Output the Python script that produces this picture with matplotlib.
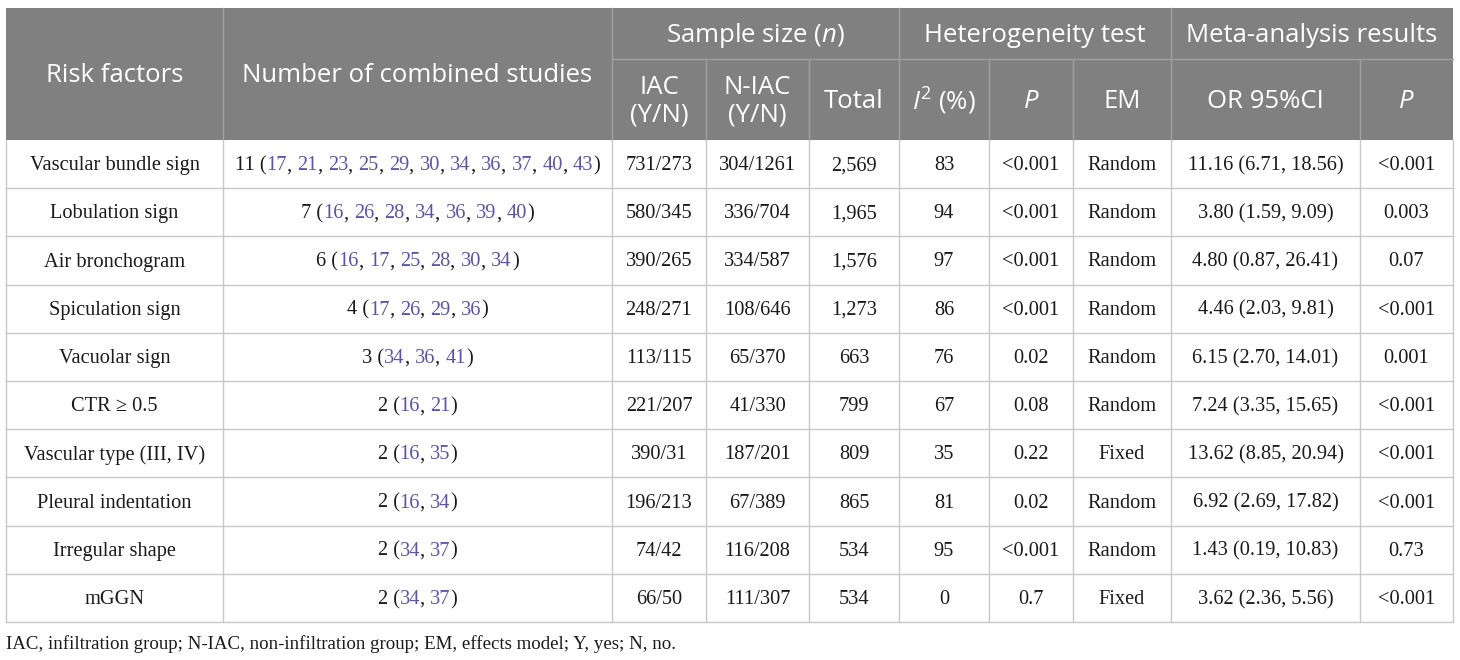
import matplotlib
matplotlib.use('Agg')
import matplotlib.pyplot as plt
from matplotlib.patches import Rectangle

plt.rcParams['mathtext.fontset'] = 'custom'
plt.rcParams['mathtext.rm'] = 'Open Sans'
plt.rcParams['mathtext.it'] = 'Open Sans:italic'

# table data
risk_factors = ['Vascular bundle sign', 'Lobulation sign', 'Air bronchogram',
                'Spiculation sign', 'Vacuolar sign', 'CTR \u2265 0.5',
                'Vascular type (III, IV)', 'Pleural indentation',
                'Irregular shape', 'mGGN']
n_studies = [11, 7, 6, 4, 3, 2, 2, 2, 2, 2]
refs = [[17, 21, 23, 25, 29, 30, 34, 36, 37, 40, 43],
        [16, 26, 28, 34, 36, 39, 40],
        [16, 17, 25, 28, 30, 34],
        [17, 26, 29, 36],
        [34, 36, 41],
        [16, 21],
        [16, 35],
        [16, 34],
        [34, 37],
        [34, 37]]
iac = ['731/273', '580/345', '390/265', '248/271', '113/115', '221/207',
       '390/31', '196/213', '74/42', '66/50']
niac = ['304/1261', '336/704', '334/587', '108/646', '65/370', '41/330',
        '187/201', '67/389', '116/208', '111/307']
total = ['2,569', '1,965', '1,576', '1,273', '663', '799', '809', '865', '534', '534']
i2 = ['83', '94', '97', '86', '76', '67', '35', '81', '95', '0']
p_het = ['<0.001', '<0.001', '<0.001', '<0.001', '0.02', '0.08', '0.22', '0.02',
         '<0.001', '0.7']
em = ['Random', 'Random', 'Random', 'Random', 'Random', 'Random', 'Fixed',
      'Random', 'Random', 'Fixed']
or_ci = ['11.16 (6.71, 18.56)', '3.80 (1.59, 9.09)', '4.80 (0.87, 26.41)',
         '4.46 (2.03, 9.81)', '6.15 (2.70, 14.01)', '7.24 (3.35, 15.65)',
         '13.62 (8.85, 20.94)', '6.92 (2.69, 17.82)', '1.43 (0.19, 10.83)',
         '3.62 (2.36, 5.56)']
p_meta = ['<0.001', '0.003', '0.07', '<0.001', '0.001', '<0.001', '<0.001',
          '<0.001', '0.73', '<0.001']

footnote = 'IAC, infiltration group; N-IAC, non-infiltration group; EM, effects model; Y, yes; N, no.'

# layout (pixels)
col_x = [6, 223, 612, 706, 809, 899, 989, 1073, 1171, 1360, 1453]
head_top, head_mid, head_bot = 8, 59, 140
row_h = 48.2

HEAD_BG = '#808080'
HEAD_LINE = '#a0a0a0'
BODY_LINE = '#c8c8c8'
REF_COLOR = '#5b55a5'
SANS = 'Open Sans'
SERIF = 'Liberation Serif'
hfs = 18.5
bfs = 14.7

fig = plt.figure(figsize=(14.6, 6.6), dpi=100)
ax = fig.add_axes([0, 0, 1, 1])
ax.set_xlim(0, 1460)
ax.set_ylim(660, 0)
ax.axis('off')

# header block
ax.add_patch(Rectangle((col_x[0], head_top), col_x[-1] - col_x[0], head_bot - head_top,
                       facecolor=HEAD_BG, edgecolor='none'))
# header lines
for x in [col_x[1], col_x[2], col_x[5], col_x[8]]:
    ax.plot([x, x], [head_top, head_bot], color=HEAD_LINE, lw=1)
for x in [col_x[3], col_x[4], col_x[6], col_x[7], col_x[9]]:
    ax.plot([x, x], [head_mid, head_bot], color=HEAD_LINE, lw=1)
ax.plot([col_x[2], col_x[-1]], [head_mid, head_mid], color=HEAD_LINE, lw=1)


def cx(i):
    return (col_x[i] + col_x[i + 1]) / 2


hkw = dict(color='white', fontsize=hfs, family=SANS, ha='center', va='center')
top = (head_top + head_mid) / 2 + 2
full = (head_top + head_bot) / 2 + 2
sub = (head_mid + head_bot) / 2 + 2
ax.text(cx(0), full, 'Risk factors', **hkw)
ax.text(cx(1), full, 'Number of combined studies', **hkw)
ax.text((col_x[2] + col_x[5]) / 2, top, 'Sample size ($\\it{n}$)', **hkw)
ax.text((col_x[5] + col_x[8]) / 2, top, 'Heterogeneity test', **hkw)
ax.text((col_x[8] + col_x[10]) / 2, top, 'Meta-analysis results', **hkw)
ax.text(cx(2), sub, 'IAC\n(Y/N)', linespacing=1.12, **hkw)
ax.text(cx(3), sub, 'N-IAC\n(Y/N)', linespacing=1.12, **hkw)
ax.text(cx(4), sub, 'Total', **hkw)
ax.text(cx(5), sub, '$\\it{I}^2$ (%)', **hkw)
ax.text(cx(6), sub, '$\\it{P}$', **hkw)
ax.text(cx(7), sub, 'EM', **hkw)
ax.text(cx(8), sub, 'OR 95%CI', **hkw)
ax.text(cx(9), sub, '$\\it{P}$', **hkw)

# body grid
n_rows = len(risk_factors)
body_bot = head_bot + n_rows * row_h
for x in col_x:
    ax.plot([x, x], [head_bot, body_bot], color=BODY_LINE, lw=1)
for r in range(1, n_rows + 1):
    y = head_bot + r * row_h
    ax.plot([col_x[0], col_x[-1]], [y, y], color=BODY_LINE, lw=1)

renderer = fig.canvas.get_renderer()
bkw = dict(fontsize=bfs, family=SERIF, va='center')


def text_width(s):
    t = ax.text(0, 0, s, **bkw)
    w = t.get_window_extent(renderer).width
    t.remove()
    return w


for r in range(n_rows):
    yc = head_bot + (r + 0.5) * row_h + 1.5
    cells = [risk_factors[r], None, iac[r], niac[r], total[r], i2[r], p_het[r],
             em[r], or_ci[r], p_meta[r]]
    for i, s in enumerate(cells):
        if s is not None:
            ax.text(cx(i), yc, s, ha='center', color='#1a1a1a', **bkw)
    # studies cell with coloured reference numbers
    pieces = [(f'{n_studies[r]} (', '#1a1a1a')]
    for k, ref in enumerate(refs[r]):
        pieces.append((str(ref), REF_COLOR))
        pieces.append((', ' if k < len(refs[r]) - 1 else ')', '#1a1a1a'))
    widths = [text_width(p) for p, _ in pieces]
    x = cx(1) - sum(widths) / 2
    for (p, c), w in zip(pieces, widths):
        ax.text(x, yc, p, ha='left', color=c, **bkw)
        x += w

ax.text(col_x[0], 644, footnote, ha='left', color='#1a1a1a',
        fontsize=13.6, family=SERIF, va='center')

fig.savefig('out.png', dpi=100)
